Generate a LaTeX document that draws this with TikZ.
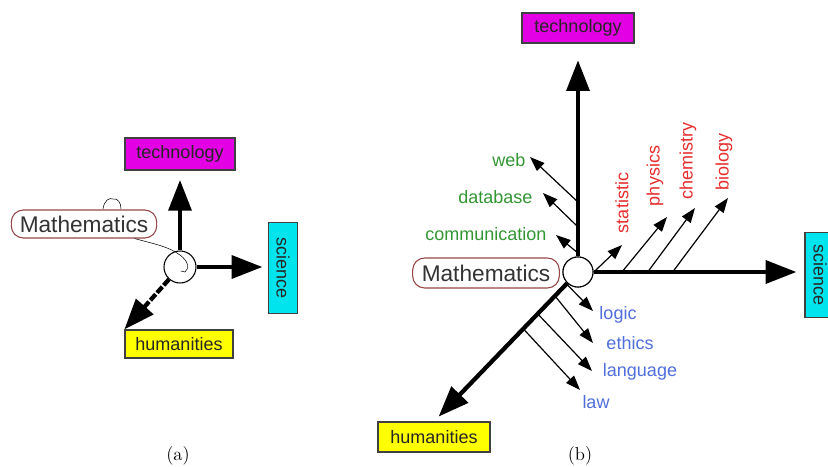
\documentclass[tikz,border=0pt]{standalone}
\usepackage{fontspec}
\setsansfont{Liberation Sans}
\usetikzlibrary{arrows.meta,calc,positioning}

\definecolor{techmag}{RGB}{228,0,228}
\definecolor{scicyan}{RGB}{0,228,238}
\definecolor{humyellow}{RGB}{255,255,0}
\definecolor{mathred}{RGB}{150,70,70}
\definecolor{lblgreen}{RGB}{50,150,50}
\definecolor{lblred}{RGB}{230,45,45}
\definecolor{lblblue}{RGB}{80,110,220}

\begin{document}
\begin{tikzpicture}[x=0.75pt,y=-0.75pt,
  bigarrow/.style={line width=3.2pt,-{Triangle[length=23pt,width=17pt]}},
  thinarrow/.style={line width=0.9pt,-{Triangle[length=11pt,width=8pt]}},
  axisbox/.style={draw=black!75,line width=0.9pt,inner sep=0pt,
    font=\sffamily\fontsize{13.5}{15}\selectfont,text=black!85},
  mathbox/.style={draw=mathred,line width=0.8pt,rounded corners=9pt,fill=white,
    inner sep=0pt,font=\sffamily\fontsize{17}{19}\selectfont,text=black!80},
  hub/.style={circle,draw,line width=0.8pt,fill=white,inner sep=0pt},
  lbl/.style={font=\sffamily\fontsize{13.5}{15}\selectfont,inner sep=1pt}]

  \useasboundingbox (0,0) rectangle (828,467);

  % (a) the three axes
  \node[hub,minimum size=24pt] (hubA) at (180,267) {};
  \node[axisbox,fill=techmag,minimum width=82.5pt,minimum height=24pt] (techA) at (180,154) {technology};
  \node[axisbox,fill=scicyan,rotate=-90,minimum width=68pt,minimum height=22pt] (sciA) at (283,268) {science};
  \node[axisbox,fill=humyellow,minimum width=81pt,minimum height=21pt] (humA) at (179,344) {humanities};
  \node[mathbox,minimum width=109pt,minimum height=21pt] (mathA) at (84,224) {Mathematics};

  \draw[bigarrow,shorten >=7pt] (hubA) -- (hubA |- techA.south);
  \draw[bigarrow,shorten >=4pt] (hubA) -- (hubA -| sciA.south);
  \draw[bigarrow,dash pattern=on 6pt off 1.5pt] (hubA) -- (humA.north west);

  % hand drawn link from the label into the circle
  \draw[thin] (mathA.-16) .. controls (150,243) and (168,246) .. (180,255)
    .. controls (188,261) and (190,268) .. (185,272) -- (181,271);
  \draw[thin] (103,209) .. controls (104,201) and (109,197) .. (113,199)
    .. controls (118,198) and (121,203) .. (121,209);

  % (b) the three axes
  \node[hub,minimum size=22.5pt] (hubB) at (578,272) {};
  \node[axisbox,fill=techmag,minimum width=84pt,minimum height=22.5pt] (techB) at (578,28) {technology};
  \node[axisbox,fill=scicyan,rotate=-90,minimum width=64pt,minimum height=22.5pt] (sciB) at (820,275) {science};
  \node[axisbox,fill=humyellow,minimum width=84pt,minimum height=22.5pt] (humB) at (434,437) {humanities};
  \node[mathbox,minimum width=110pt,minimum height=22.5pt] (mathB) at (486,273) {Mathematics};

  \draw[bigarrow,shorten >=12.5pt] (hubB) -- (hubB |- techB.south);
  \draw[bigarrow,shorten >=6pt] (hubB) -- (hubB -| sciB.south);
  \draw[bigarrow,shorten >=5pt] (hubB) -- (humB.north);

  % technology branch
  \coordinate (gWeb) at ($(hubB)!0.306!(hubB |- techB.south)$);
  \coordinate (gData) at ($(hubB)!0.197!(hubB |- techB.south)$);
  \coordinate (gComm) at ($(hubB)!0.083!(hubB |- techB.south)$);
  \coordinate (webTip) at (530,157);
  \coordinate (dataTip) at (543,193);
  \coordinate (commTip) at (556,235);
  \node[lbl,text=lblgreen,anchor=east] (web) at (527,160) {web};
  \node[lbl,text=lblgreen,anchor=east] (database) at (534,197) {database};
  \node[lbl,text=lblgreen,anchor=east] (communication) at (548,234) {communication};
  \draw[thinarrow] (gWeb) -- (webTip);
  \draw[thinarrow] (gData) -- (dataTip);
  \draw[thinarrow] (gComm) -- (commTip);

  % science branch
  \coordinate (rStat) at ($(hubB)!0.07!(hubB -| sciB.south)$);
  \coordinate (rPhys) at ($(hubB)!0.194!(hubB -| sciB.south)$);
  \coordinate (rChem) at ($(hubB)!0.308!(hubB -| sciB.south)$);
  \coordinate (rBio) at ($(hubB)!0.418!(hubB -| sciB.south)$);
  \coordinate (statTip) at (622,245);
  \coordinate (physTip) at (667,217);
  \coordinate (chemTip) at (695,208);
  \coordinate (bioTip) at (728,198);
  \node[lbl,text=lblred,rotate=90] (statistic) at (622,203) {statistic};
  \node[lbl,text=lblred,rotate=90] (physics) at (655,176) {physics};
  \node[lbl,text=lblred,rotate=90] (chemistry) at (688,161) {chemistry};
  \node[lbl,text=lblred,rotate=90] (biology) at (724,162) {biology};
  \draw[thinarrow] (rStat) -- (statTip);
  \draw[thinarrow] (rPhys) -- (physTip);
  \draw[thinarrow] (rChem) -- (chemTip);
  \draw[thinarrow] (rBio) -- (bioTip);

  % humanities branch
  \coordinate (bLogic) at ($(hubB)!0.08!(humB.north)$);
  \coordinate (bEthics) at ($(hubB)!0.16!(humB.north)$);
  \coordinate (bLang) at ($(hubB)!0.28!(humB.north)$);
  \coordinate (bLaw) at ($(hubB)!0.38!(humB.north)$);
  \coordinate (logicTip) at (593,311);
  \coordinate (ethicsTip) at (593,343);
  \coordinate (langTip) at (592,371);
  \coordinate (lawTip) at (580,390);
  \node[lbl,text=lblblue] (logic) at (618,315) {logic};
  \node[lbl,text=lblblue] (ethics) at (630,343) {ethics};
  \node[lbl,text=lblblue] (language) at (640,372) {language};
  \node[lbl,text=lblblue] (law) at (596,402) {law};
  \draw[thinarrow] (bLogic) -- (logicTip);
  \draw[thinarrow] (bEthics) -- (ethicsTip);
  \draw[thinarrow] (bLang) -- (langTip);
  \draw[thinarrow] (bLaw) -- (lawTip);

  \node[hub,minimum size=22.5pt] at (hubB) {};

  % captions
  \node[font=\fontsize{14}{16}\selectfont] (capA) at (178,456) {(a)};
  \node[font=\fontsize{14}{16}\selectfont] (capB) at (580,456) {(b)};
\end{tikzpicture}
\end{document}
